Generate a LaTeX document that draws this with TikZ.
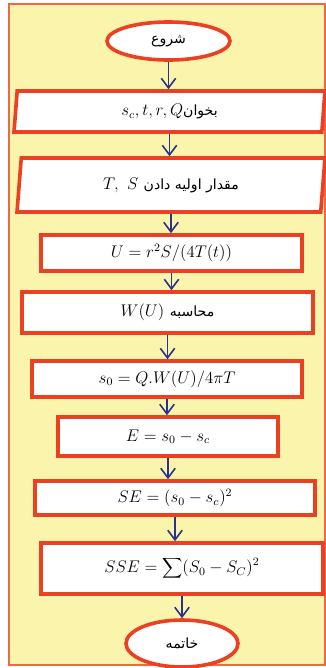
\documentclass[tikz,border=0pt]{standalone}
\usepackage{fontspec}
\usetikzlibrary{shapes.geometric,arrows.meta}
\TeXXeTstate=1
\newfontfamily\arabicfont[Script=Arabic]{DejaVu Sans}
\newcommand{\fa}[1]{{\arabicfont\normalsize\beginR #1\endR}}
\definecolor{boxred}{RGB}{236,64,34}
\definecolor{frameyellow}{RGB}{250,244,172}
\definecolor{frameorange}{RGB}{238,104,66}
\definecolor{arrowblue}{RGB}{40,52,140}

\begin{document}
\begin{tikzpicture}[x=0.25mm,y=-0.25mm,
    box/.style={draw=boxred, line width=0.9mm, fill=white, inner sep=0pt, font=\large},
    terminal/.style={box, ellipse},
    inputbox/.style={box, trapezium, trapezium stretches body},
    flow/.style={draw=arrowblue, line width=0.4mm, -{Straight Barb[length=2.4mm,width=3.6mm]}}]

% ===== Khung nền =====
\useasboundingbox (0,0) rectangle (326,668);
\draw[frameorange, fill=frameyellow, line width=0.4mm] (9,4) rectangle (325,665);

% ===== Các khối =====
\node[terminal, minimum width=30.75mm, minimum height=9.5mm] (start) at (168.5,41) {\fa{شروع}};

\node[inputbox, trapezium left angle=78, trapezium right angle=102,
      minimum width=77.75mm, minimum height=10.25mm] (read) at (169.5,111.5) {$s_c,t,r,Q$\fa{بخوان}};
\node[inputbox, trapezium left angle=74, trapezium right angle=106,
      minimum width=77mm, minimum height=13.5mm] (init) at (171,185) {$T,\ S$ \fa{مقدار اولیه دادن}};

\node[box, minimum width=65.25mm, minimum height=9mm] (ucalc) at (171.5,253) {$U=r^2S/(4T(t))$};
\node[box, minimum width=72.75mm, minimum height=10.25mm] (wcalc) at (167.5,312.5) {$W(U)$ \fa{محاسبه}};
\node[box, minimum width=67.5mm, minimum height=9mm] (szero) at (167,379) {$s_0=Q.W(U)/4\pi T$};
\node[box, minimum width=55mm, minimum height=9.75mm] (err) at (168,436.5) {$E=s_0-s_c$};
\node[box, minimum width=70mm, minimum height=8.5mm] (sqerr) at (175,498) {$SE=(s_0-s_c)^2$};
\node[box, minimum width=70.5mm, minimum height=12.75mm] (sumsq) at (182,568.5) {$SSE=\displaystyle\sum(S_0-S_C)^2$};

\node[terminal, minimum width=28mm, minimum height=11.75mm] (finish) at (182,643.5) {\fa{خاتمه}};

% ===== Mũi tên =====
\foreach \a/\b in {start/read, read/init, init/ucalc, ucalc/wcalc, wcalc/szero,
                   szero/err, err/sqerr, sqerr/sumsq, sumsq/finish} {
    \draw[flow] (\a.south) -- (\a.south |- \b.north);
}

\end{tikzpicture}
\end{document}
